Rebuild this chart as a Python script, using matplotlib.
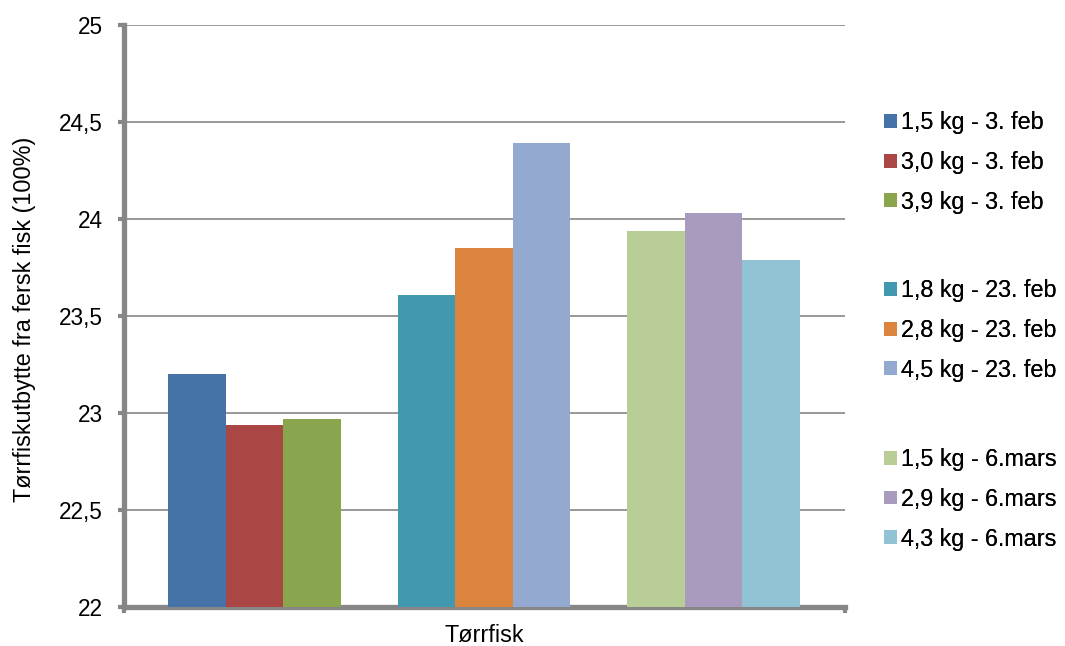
import matplotlib.pyplot as plt
from matplotlib.patches import Patch

plt.rcParams['font.family'] = ['Liberation Sans', 'DejaVu Sans']

# Yield of dried fish per batch
labels = ['1,5 kg - 3. feb', '3,0 kg - 3. feb', '3,9 kg - 3. feb',
          '1,8 kg - 23. feb', '2,8 kg - 23. feb', '4,5 kg - 23. feb',
          '1,5 kg - 6.mars', '2,9 kg - 6.mars', '4,3 kg - 6.mars']
values = [23.20, 22.94, 22.97,
          23.61, 23.85, 24.39,
          23.94, 24.03, 23.79]
colors = ['#4572A7', '#AA4643', '#89A54E',
          '#4198AF', '#DB843D', '#93A9CF',
          '#B9CD96', '#A99BBD', '#92C3D4']
y_ticks = [22, 22.5, 23, 23.5, 24, 24.5, 25]
y_ticklabels = ['22', '22,5', '23', '23,5', '24', '24,5', '25']

fig = plt.figure(figsize=(10.65, 6.46), dpi=100)
ax = fig.add_axes([0.1164, 0.0604, 0.677, 0.9009])

grey = '#868686'
width = 0.0798
centers = [0.181, 0.4993, 0.8176]
handles = []
for i, (v, c, lab) in enumerate(zip(values, colors, labels)):
    g, k = divmod(i, 3)
    x = centers[g] + (k - 1) * width
    ax.bar(x, v - 22, bottom=22, width=width, color=c, zorder=3)
    handles.append(Patch(facecolor=c, label=lab))

ax.set_xlim(0, 1)
ax.set_ylim(22, 25)
ax.set_yticks(y_ticks)
ax.set_yticklabels(y_ticklabels, fontsize=16.3)
ax.set_xticks([0, 1])
ax.set_xticklabels(['', ''])
ax.yaxis.grid(True, color=grey, linewidth=1.2, zorder=0)
ax.set_axisbelow(True)

for s in ['top', 'right']:
    ax.spines[s].set_visible(False)
for s in ['left', 'bottom']:
    ax.spines[s].set_color(grey)
    ax.spines[s].set_linewidth(3.8)
ax.tick_params(axis='both', direction='out', length=4, width=3, color=grey, pad=11)

ax.set_ylabel('Tørrfiskutbytte fra fersk fisk (100%)', fontsize=16.8)
ax.yaxis.set_label_coords(-0.122, 0.494)
fig.text(484 / 1065, 1 - 642 / 646, 'Tørrfisk', fontsize=16.8,
         ha='center', va='baseline')

# three legend blocks, one per date
tops = [0.828, 0.568, 0.3065]
for g in range(3):
    leg = fig.legend(handles=handles[g * 3:(g + 1) * 3], loc='upper left',
                     bbox_to_anchor=(0.830, tops[g]), frameon=False,
                     fontsize=16.8, handlelength=0.54, handleheight=0.54,
                     handletextpad=0.2, labelspacing=0.72, borderaxespad=0,
                     borderpad=0)
    fig.add_artist(leg)

fig.savefig('out.png', dpi=100)
